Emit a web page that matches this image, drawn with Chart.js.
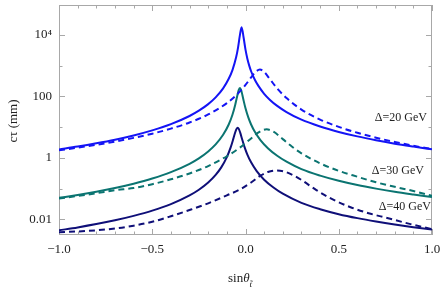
<!DOCTYPE html>
<html>
<head>
<meta charset="utf-8">
<script src="https://cdn.jsdelivr.net/npm/chart.js@4.4.1/dist/chart.umd.min.js"></script>
<style>
html, body { margin: 0; padding: 0; background: #fff; }
</style>
</head>
<body>
<canvas id="grafico" width="443" height="294"></canvas>
<script>
// valores (sin theta, c tau em mm)
const sinS20 = [-1, -0.9, -0.8, -0.7, -0.6, -0.5, -0.4, -0.3, -0.25, -0.2, -0.16, -0.12, -0.09, -0.07, -0.05, -0.04, -0.03, -0.021, -0.01, 0, 0.01, 0.02, 0.03, 0.05, 0.07, 0.1, 0.13, 0.17, 0.22, 0.3, 0.4, 0.5, 0.6, 0.7, 0.8, 0.9, 1];
const ctS20  = [1.88, 2.33, 2.97, 3.9, 5.37, 7.85, 12.5, 23.1, 34.3, 56.1, 93, 183, 375, 720, 1910, 3900, 9940, 18000, 8140, 3330, 1700, 1010, 661, 350, 216, 122, 78.6, 49.2, 31, 17.5, 10.5, 7.0, 5.0, 3.75, 2.9, 2.33, 1.9];

const sinD20 = [-1, -0.9, -0.8, -0.7, -0.6, -0.5, -0.4, -0.3, -0.2, -0.1, -0.05, 0, 0.03, 0.055, 0.077, 0.1, 0.13, 0.17, 0.22, 0.3, 0.4, 0.5, 0.6, 0.7, 0.8, 0.9, 1];
const ctD20  = [1.77, 2.15, 2.67, 3.4, 4.47, 6.14, 8.95, 14.2, 25.9, 60.5, 109, 237, 415, 637, 749, 628, 371, 181, 88.8, 37.3, 17.7, 10.2, 6.56, 4.53, 3.29, 2.48, 1.93];

const sinS30 = [-1, -0.9, -0.8, -0.7, -0.6, -0.5, -0.4, -0.3, -0.25, -0.2, -0.16, -0.12, -0.09, -0.07, -0.055, -0.045, -0.037, -0.03, -0.022, -0.012, 0, 0.015, 0.03, 0.05, 0.08, 0.12, 0.17, 0.22, 0.3, 0.4, 0.5, 0.6, 0.7, 0.8, 0.9, 1];
const ctS30  = [0.0499, 0.0621, 0.0792, 0.1046, 0.1445, 0.2125, 0.343, 0.642, 0.965, 1.62, 2.74, 5.63, 12.2, 25.4, 53.9, 99.6, 159, 190, 151, 82.3, 41, 20.7, 12.2, 7.07, 3.81, 2.07, 1.17, 0.75, 0.43, 0.264, 0.179, 0.13, 0.0996, 0.0784, 0.0641, 0.0532];

const sinD30 = [-1, -0.9, -0.8, -0.7, -0.6, -0.5, -0.4, -0.3, -0.2, -0.1, -0.03, 0.03, 0.07, 0.113, 0.15, 0.2, 0.25, 0.3, 0.4, 0.5, 0.6, 0.7, 0.8, 0.9, 1];
const ctD30  = [0.0476, 0.0574, 0.0705, 0.0888, 0.104, 0.139, 0.2, 0.31, 0.54, 1.13, 2.16, 4.28, 6.72, 8.5, 7.1, 4.08, 2.3, 1.41, 0.664, 0.378, 0.243, 0.16, 0.114, 0.0833, 0.058];

const sinS40 = [-1, -0.9, -0.8, -0.7, -0.6, -0.5, -0.4, -0.3, -0.25, -0.2, -0.16, -0.13, -0.1, -0.08, -0.065, -0.055, -0.048, -0.042, -0.036, -0.028, -0.018, -0.005, 0.01, 0.03, 0.06, 0.1, 0.15, 0.2, 0.3, 0.4, 0.5, 0.6, 0.7, 0.8, 0.9, 1];
const ctS40  = [0.00437, 0.00544, 0.00697, 0.00925, 0.0129, 0.0191, 0.0312, 0.0599, 0.0918, 0.158, 0.28, 0.491, 1.06, 2.15, 4.23, 6.81, 8.79, 9.55, 8.79, 6.51, 4.03, 2.24, 1.28, 0.716, 0.371, 0.195, 0.108, 0.068, 0.0342, 0.0213, 0.0147, 0.0109, 0.00844, 0.00673, 0.00551, 0.00461];

const sinD40 = [-1, -0.85, -0.7, -0.6, -0.5, -0.4, -0.3, -0.2, -0.1, -0.03, 0.03, 0.08, 0.12, 0.166, 0.21, 0.26, 0.3, 0.38, 0.46, 0.56, 0.66, 0.76, 0.88, 1];
const ctD40  = [0.0038, 0.00417, 0.005, 0.00617, 0.00832, 0.0126, 0.02, 0.0331, 0.0603, 0.0933, 0.158, 0.263, 0.347, 0.389, 0.355, 0.263, 0.191, 0.0891, 0.0468, 0.0251, 0.0158, 0.011, 0.00708, 0.00479];

const yTicks = [0.01, 1, 100, 10000];
const yTickLabels = ['0.01', '1', '100', '10\u2074'];
const yMinor = [0.1, 10, 1000];
const xTicks = [-1, -0.5, 0, 0.5, 1];
const xTickLabels = ['\u22121.0', '\u22120.5', '0.0', '0.5', '1.0'];
const rotulos = ['\u0394=20 GeV', '\u0394=30 GeV', '\u0394=40 GeV'];

const corAzul = '#1414f5';
const corVerde = '#0b7471';
const corMarinho = '#0f0f78';
const fonte = '"Liberation Serif", "DejaVu Serif", serif';

function pares(xs, ys) {
    return xs.map((x, i) => ({ x: x, y: ys[i] }));
}

function serie(xs, ys, cor, tracejado) {
    return {
        data: pares(xs, ys),
        borderColor: cor,
        borderWidth: 2,
        borderDash: tracejado ? [6, 4] : [],
        pointRadius: 0,
        fill: false,
        cubicInterpolationMode: 'monotone'
    };
}

// moldura cinza com marcas para dentro, estilo Mathematica
const molduraPlugin = {
    id: 'moldura',
    beforeDatasetsDraw(chart) {
        const ctx = chart.ctx, a = chart.chartArea;
        const sx = chart.scales.x, sy = chart.scales.y;
        ctx.save();
        ctx.strokeStyle = '#a8a8a8';
        ctx.lineWidth = 1;
        ctx.strokeRect(a.left + 0.5, a.top + 0.5, a.right - a.left - 1, a.bottom - a.top - 1);
        ctx.beginPath();
        for (let i = -10; i <= 10; i++) {
            const v = i / 10;
            const px = Math.round(sx.getPixelForValue(v)) + 0.5;
            const len = (i % 5 === 0) ? 6 : 3.5;
            ctx.moveTo(px, a.bottom); ctx.lineTo(px, a.bottom - len);
            ctx.moveTo(px, a.top); ctx.lineTo(px, a.top + len);
        }
        yTicks.concat(yMinor).forEach(v => {
            const py = Math.round(sy.getPixelForValue(v)) + 0.5;
            const len = yTicks.includes(v) ? 6 : 3.5;
            ctx.moveTo(a.left, py); ctx.lineTo(a.left + len, py);
            ctx.moveTo(a.right, py); ctx.lineTo(a.right - len, py);
        });
        ctx.stroke();
        ctx.restore();
    },
    afterDraw(chart) {
        const ctx = chart.ctx;
        ctx.save();
        ctx.fillStyle = '#222';
        // titulo do eixo y
        ctx.font = '13px ' + fonte;
        ctx.translate(14, 121);
        ctx.rotate(-Math.PI / 2);
        ctx.textAlign = 'center';
        ctx.textBaseline = 'middle';
        ctx.fillText('c\u03c4 (mm)', 0, 0);
        ctx.setTransform(1, 0, 0, 1, 0, 0);
        // titulo do eixo x
        ctx.textAlign = 'left';
        ctx.textBaseline = 'alphabetic';
        ctx.font = '13px ' + fonte;
        ctx.fillText('sin', 228, 282);
        let w = ctx.measureText('sin').width;
        ctx.font = 'italic 13px ' + fonte;
        ctx.fillText('\u03b8', 228 + w, 282);
        w += ctx.measureText('\u03b8').width;
        ctx.font = 'italic 9px ' + fonte;
        ctx.fillText('t\u0303', 228 + w, 287);
        // rotulos das curvas
        ctx.font = '12px ' + fonte;
        ctx.textAlign = 'right';
        ctx.textBaseline = 'middle';
        ctx.fillText(rotulos[0], 427, 118);
        ctx.fillText(rotulos[1], 424, 171);
        ctx.fillText(rotulos[2], 431, 207);
        ctx.restore();
    }
};

function semPadding(scale) {
    scale.paddingTop = 0;
    scale.paddingBottom = 0;
    scale.paddingLeft = 0;
    scale.paddingRight = 0;
}

function Init()
{
    new Chart(document.getElementById('grafico').getContext('2d'), {
        type: 'line',
        data: {
            datasets: [
                serie(sinS20, ctS20, corAzul, false),
                serie(sinD20, ctD20, corAzul, true),
                serie(sinS30, ctS30, corVerde, false),
                serie(sinD30, ctD30, corVerde, true),
                serie(sinS40, ctS40, corMarinho, false),
                serie(sinD40, ctD40, corMarinho, true)
            ]
        },
        options: {
            responsive: false,
            animation: false,
            devicePixelRatio: 1,
            layout: { padding: { top: 5, right: 11, left: 0, bottom: 0 } },
            plugins: { legend: { display: false }, tooltip: { enabled: false } },
            scales: {
                x: {
                    type: 'linear',
                    min: -1,
                    max: 1,
                    grid: { display: false, drawTicks: false },
                    border: { display: false },
                    afterBuildTicks: scale => { scale.ticks = xTicks.map(v => ({ value: v })); },
                    afterFit: scale => { scale.height = 59; semPadding(scale); },
                    ticks: {
                        padding: 7,
                        color: '#222',
                        font: { family: fonte, size: 13 },
                        maxRotation: 0,
                        callback: (v, i) => xTickLabels[i]
                    }
                },
                y: {
                    type: 'logarithmic',
                    min: 0.00308,
                    max: 94900,
                    grid: { display: false, drawTicks: false },
                    border: { display: false },
                    afterBuildTicks: scale => { scale.ticks = yTicks.map(v => ({ value: v })); },
                    afterFit: scale => { scale.width = 59; semPadding(scale); },
                    ticks: {
                        padding: 7,
                        color: '#222',
                        font: { family: fonte, size: 13 },
                        callback: (v, i) => yTickLabels[i]
                    }
                }
            }
        },
        plugins: [molduraPlugin]
    });
}

Init();
</script>
</body>
</html>
